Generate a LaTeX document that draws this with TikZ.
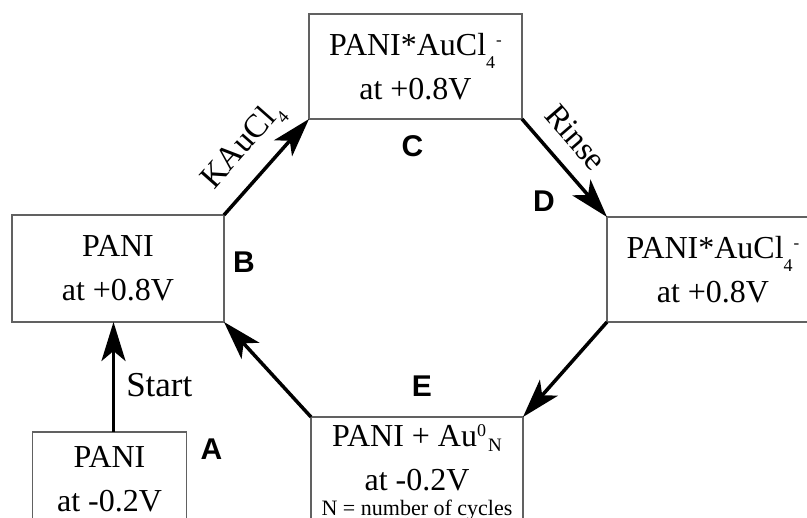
\documentclass[tikz,border=0pt]{standalone}
\usepackage{fontspec}
\setmainfont{Liberation Serif}
\newfontfamily\tagfont{Liberation Sans}
\usetikzlibrary{arrows.meta}

% small lowered index and tiny raised charge sign
\newcommand{\lowsub}[2][-13.5pt]{\raisebox{#1}{\fontsize{18}{18}\selectfont #2}}
\newcommand{\tinyminus}{\kern1pt\raisebox{10pt}{\fontsize{17}{17}\selectfont -}}
\newcommand{\aucl}{AuCl\lowsub{4}\tinyminus}

\tikzset{
  statebox/.style={draw=black!62, line width=1.3pt, inner sep=0pt, outer sep=0pt,
    minimum width=212pt, align=center, font=\fontsize{32}{44}\selectfont},
  flow/.style={line width=3.5pt, -{Stealth[length=39pt, width=24pt, inset=10pt]}},
  steptag/.style={font=\tagfont\bfseries\fontsize{30}{30}\selectfont, inner sep=0pt},
  flowtext/.style={font=\fontsize{33}{33}\selectfont, inner sep=4pt},
}

\begin{document}
\begin{tikzpicture}[x=1pt, y=-1pt]
\useasboundingbox (0,0) rectangle (807,518);
\clip (0,0) rectangle (807,518);

% states of the deposition cycle
\node[statebox, minimum height=95pt, minimum width=154pt] (aBox) at (109.5,479.5) {PANI\\at -0.2V};
\node[statebox, minimum height=107pt] (bBox) at (118,268.5) {PANI\\at +0.8V};
\node[statebox, minimum height=105pt, minimum width=213pt] (cBox) at (415.5,66.5) {PANI*\aucl\\at +0.8V};
\node[statebox, minimum height=105pt] (dBox) at (713,269.5) {PANI*\aucl\\at +0.8V};
\node[statebox, minimum height=111pt] (eBox) at (417,472.5)
  {PANI + Au\raisebox{10pt}{\fontsize{18}{18}\selectfont 0}\kern2pt\raisebox{-5pt}{\fontsize{19}{19}\selectfont N}\\
   at -0.2V\\[-19pt]
   {\fontsize{22}{22}\selectfont N = number of cycles}};

% step letters
\node[steptag] (tagA) at (211.5,449) {A};
\node[steptag] (tagB) at (244,262.5) {B};
\node[steptag] (tagC) at (412.5,146) {C};
\node[steptag] (tagD) at (544,201) {D};
\node[steptag] (tagE) at (422,386.5) {E};

% transitions
\draw[flow] ([xshift=4pt]aBox.north) -- ([xshift=-4.5pt]bBox.south)
  node[pos=0.43, right=11pt, inner sep=0pt, font=\fontsize{35}{35}\selectfont] (startText) {Start};
\draw[flow] (bBox.north east) -- (cBox.south west)
  node[midway, sloped, above=9pt, flowtext] (kauText) {KAuCl\lowsub[-9pt]{4}};
\draw[flow] (cBox.south east) -- (dBox.north west)
  node[pos=0.38, sloped, above=12pt, flowtext] (rinseText) {Rinse};
\draw[flow] (dBox.south west) -- (eBox.north east);
\draw[flow] (eBox.north west) -- (bBox.south east);
\end{tikzpicture}
\end{document}
